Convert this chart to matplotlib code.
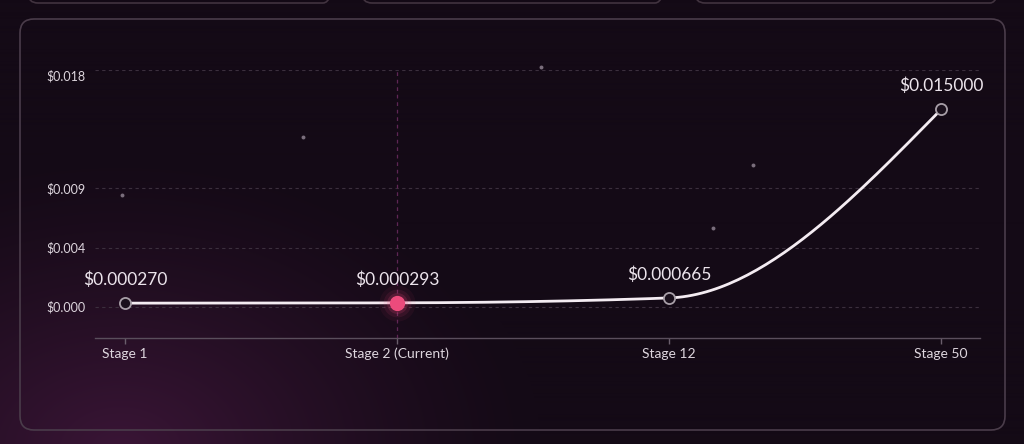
import matplotlib.pyplot as plt
import numpy as np
from matplotlib.patches import FancyBboxPatch

# data
stages = ['Stage 1', 'Stage 2 (Current)', 'Stage 12', 'Stage 50']
prices = [0.000270, 0.000293, 0.000665, 0.015000]
price_labels = ['$0.000270', '$0.000293', '$0.000665', '$0.015000']
current_idx = 1
y_ticks = [0.0, 0.0045, 0.009, 0.018]
y_tick_labels = ['$0.000', '$0.004', '$0.009', '$0.018']

plt.rcParams['font.family'] = ['Lato', 'DejaVu Sans']

W, H = 1024, 444
fig = plt.figure(figsize=(W / 100, H / 100), dpi=100)
fig.patch.set_facecolor('#130a15')

# background with purple glow bottom-left
bg = fig.add_axes([0, 0, 1, 1])
bg.set_xlim(0, W)
bg.set_ylim(H, 0)
bg.axis('off')
yy, xx = np.mgrid[0:H, 0:W]
d = np.sqrt(((xx - 120) / 420.0) ** 2 + ((yy - 450) / 300.0) ** 2)
glow = np.clip(1 - d, 0, 1) ** 1.3
base = np.array([0x14, 0x0a, 0x16]) / 255
tint = np.array([0x3a, 0x15, 0x36]) / 255
img = base[None, None, :] * (1 - glow[..., None]) + tint[None, None, :] * glow[..., None]
bg.imshow(img, extent=[0, W, H, 0], aspect='auto', zorder=0)

# cards at top (partially visible) and main panel
for x0, x1 in [(28, 333), (362, 665), (695, 1000)]:
    bg.add_patch(FancyBboxPatch((x0, -40), x1 - x0, 43, boxstyle='round,pad=0,rounding_size=10',
                                facecolor='none', edgecolor='#41333f', lw=1.2, zorder=1))
bg.add_patch(FancyBboxPatch((20, 19), 985, 411, boxstyle='round,pad=0,rounding_size=14',
                            facecolor='none', edgecolor='#4a3c4a', lw=1.2, zorder=1))

# decorative star dots
for sx, sy in [(122, 195), (303, 137), (541, 67), (753, 165), (713, 228)]:
    bg.scatter(sx, sy, s=8, color='#7a6e7c', zorder=2, linewidths=0)

ax = fig.add_axes([95 / W, 1 - 338 / H, (980 - 95) / W, (338 - 70) / H])
ax.patch.set_alpha(0)
x = np.arange(len(stages))
ax.set_xlim(-0.110, 3.143)
ax.set_ylim(-0.00238, 0.018)


# monotone cubic (d3 curveMonotoneX) for the smooth line
def monotone_curve(xs, ys, n=60):
    xs = np.asarray(xs, float)
    ys = np.asarray(ys, float)
    h = np.diff(xs)
    s = np.diff(ys) / h
    t = np.zeros(len(xs))
    for i in range(1, len(xs) - 1):
        p = (s[i - 1] * h[i] + s[i] * h[i - 1]) / (h[i - 1] + h[i])
        t[i] = (np.sign(s[i - 1]) + np.sign(s[i])) * min(abs(s[i - 1]), abs(s[i]), 0.5 * abs(p))
    t[0] = (3 * s[0] - t[1]) / 2
    t[-1] = (3 * s[-1] - t[-2]) / 2
    px, py = [], []
    u = np.linspace(0, 1, n)
    for i in range(len(xs) - 1):
        dx = h[i] / 3
        cx = [xs[i], xs[i] + dx, xs[i + 1] - dx, xs[i + 1]]
        cy = [ys[i], ys[i] + dx * t[i], ys[i + 1] - dx * t[i + 1], ys[i + 1]]
        b = [(1 - u) ** 3, 3 * (1 - u) ** 2 * u, 3 * (1 - u) * u ** 2, u ** 3]
        px.append(sum(bb * c for bb, c in zip(b, cx)))
        py.append(sum(bb * c for bb, c in zip(b, cy)))
    return np.concatenate(px), np.concatenate(py)


# grid
for yt in y_ticks:
    ax.axhline(yt, color='#3b2f3d', lw=0.8, ls=(0, (3, 3)), zorder=1)
ax.axvline(current_idx, ymin=0, ymax=1, color='#5e2655', lw=0.9, ls=(0, (3, 3)), zorder=1)

cx_, cy_ = monotone_curve(x, prices)
ax.plot(cx_, cy_, color='#f4ecf2', lw=2, zorder=3, solid_capstyle='round')

for i, (xi, p) in enumerate(zip(x, prices)):
    if i == current_idx:
        for r, a in [(26, 0.06), (20, 0.1), (15, 0.18)]:
            ax.plot(xi, p, 'o', ms=r, color='#e8457a', alpha=a, mec='none', zorder=4)
        ax.plot(xi, p, 'o', ms=11, color='#ec4b7c', mec='none', zorder=5)
    else:
        ax.plot(xi, p, 'o', ms=8, mfc='#1a101c', mec='#a89fa8', mew=1.3, zorder=5)
    ax.annotate(price_labels[i], (xi, p), xytext=(0, 11), textcoords='offset points',
                ha='center', va='bottom', fontsize=12.5, color='#ece4ec', zorder=6)

ax.set_xticks(x)
ax.set_xticklabels(stages)
ax.set_yticks(y_ticks)
ax.set_yticklabels(y_tick_labels)
for lbl in ax.get_yticklabels():
    if lbl.get_text() == '$0.018':
        lbl.set_va('top')
        lbl.set_y(0.0174)
ax.tick_params(axis='y', length=0, pad=6.5, labelsize=9, labelcolor='#ddd5dd')
ax.tick_params(axis='x', length=4, width=1, color='#6a5e6c', pad=3, labelsize=10, labelcolor='#ddd5dd')
for side in ['top', 'right', 'left']:
    ax.spines[side].set_visible(False)
ax.spines['bottom'].set_color('#5a4e5c')
ax.spines['bottom'].set_linewidth(1)

plt.savefig('out.png', dpi=100, facecolor=fig.get_facecolor())
